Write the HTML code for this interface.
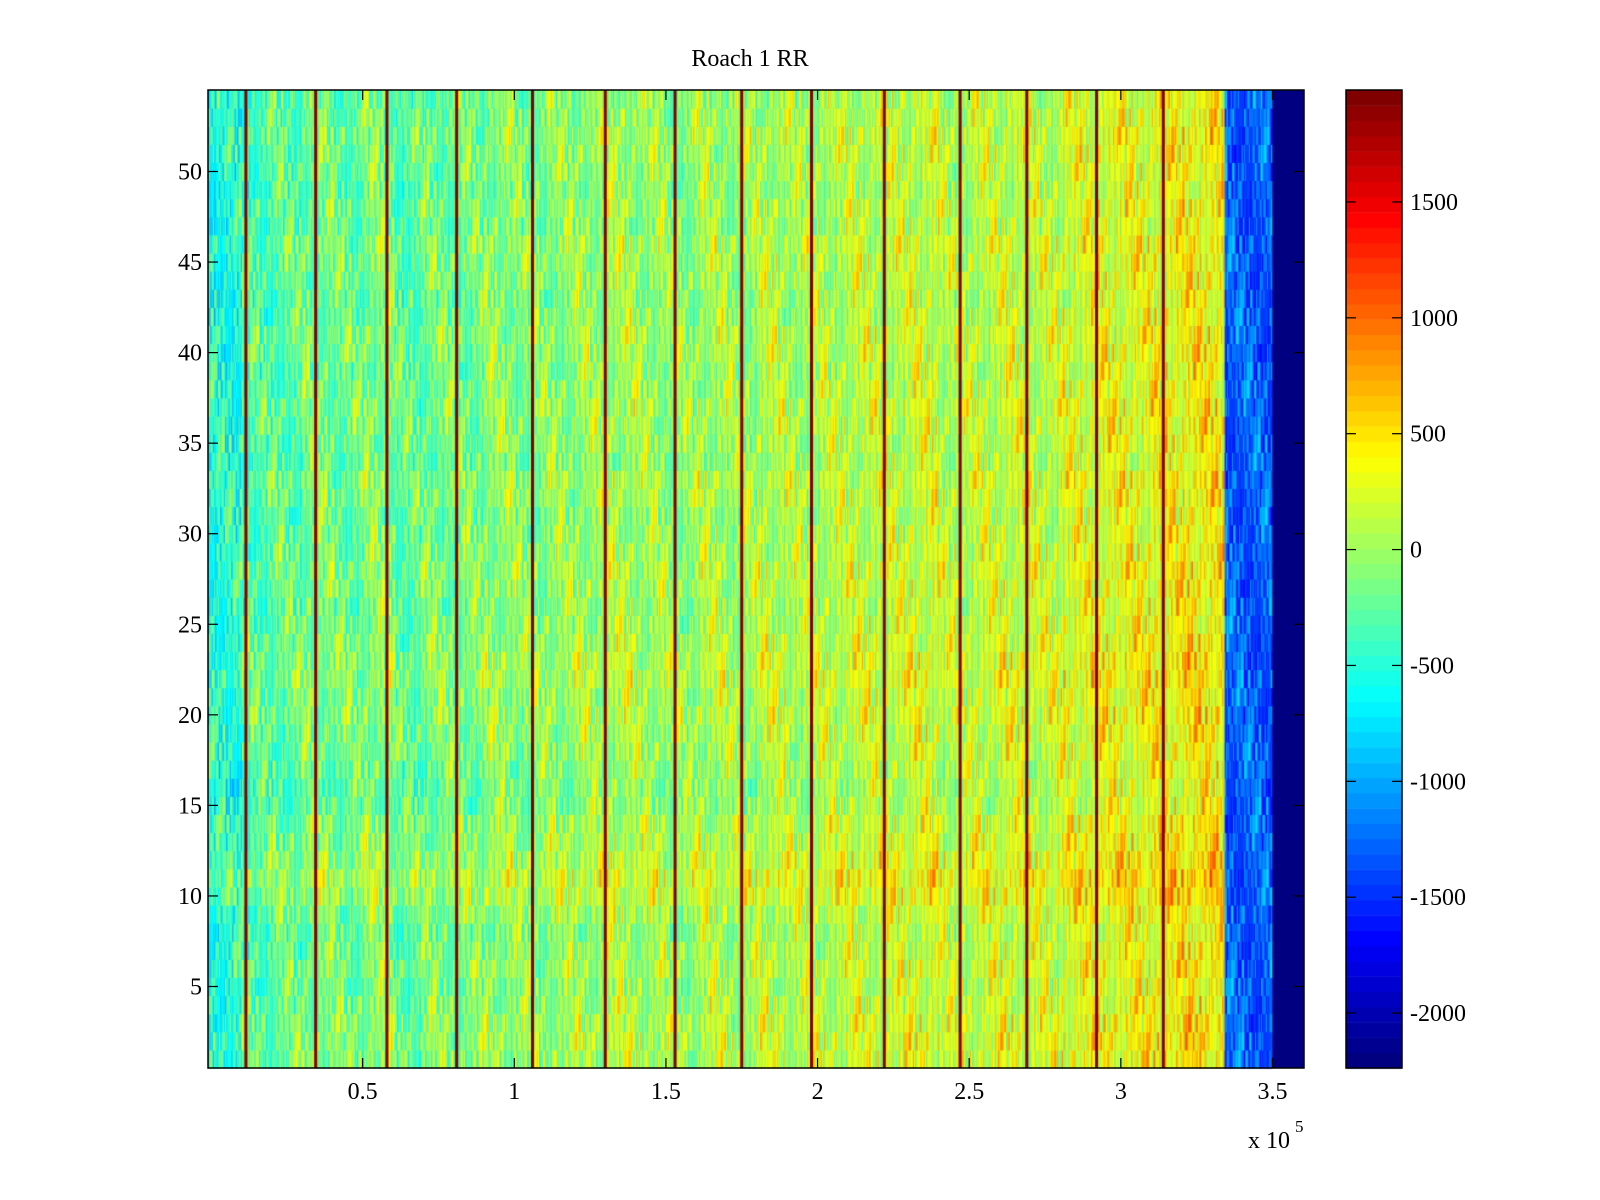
<!DOCTYPE html>
<html><head><meta charset="utf-8"><style>
html,body{margin:0;padding:0;background:#fff;width:1600px;height:1200px;overflow:hidden}
#wrap{position:relative;width:1600px;height:1200px}
canvas{position:absolute;left:0;top:0}
svg{position:absolute;left:0;top:0}
text{font-family:"Liberation Serif",serif;font-size:24px;fill:#000}
</style></head><body>
<div id="wrap">
<canvas id="cv" width="1600" height="1200"></canvas>
<svg id="sv" width="1600" height="1200"></svg>
</div>
<script>
// ---- data ----
// mean value per 10k-wide column bin (x in units of 1e5: 0.0-0.1, 0.1-0.2, ...)
const binMeans = [-500,-300,-250,-150,-200,-100,-250,-150,-150,-50,-100,-50,0,50,0,-50,50,0,100,50,100,150,150,200,100,150,200,150,250,300,300,350,400,400,-1300,-2237];
// blue band near the end of the recording
const blueBandStart = 3.34;
const blueBandMean = -1300;
// per-row offsets (rows 1..54)
const rowOffsets = [50,80,60,20,-20,40,0,-40,30,150,200,120,60,40,-60,-80,-40,0,20,60,40,100,80,40,0,-20,20,40,0,-20,-40,20,40,-60,-20,0,20,-20,-40,0,20,-40,-60,-20,0,20,-60,-20,-80,-40,-20,0,-40,-60];
// texture offsets cycled through cells
const texture = [-420,180,60,-250,320,-90,410,-330,20,260,-160,90,-380,520,-40,150,-220,300,-120,40,-300,230,-60,380,-190,110,-450,270,0,-140,600,-280,70,190,-360,130,-20,340,-240,80,-110,450,-310,10,220,-170,360,-70,-400,160,30,-210,290,-130,480,-260,100,-50,240,-350,140];
// x positions (×1e5) of the recurring dark-red vertical spike lines
const spikeX = [0.115,0.345,0.58,0.81,1.06,1.30,1.53,1.75,1.98,2.22,2.47,2.69,2.92,3.14];
const spikeValue = 1950;
const dataEndX = 3.50;
const xTicks = [0.5,1,1.5,2,2.5,3,3.5];
const xTickLabels = ["0.5","1","1.5","2","2.5","3","3.5"];
const yTicks = [5,10,15,20,25,30,35,40,45,50];
const cTicks = [-2000,-1500,-1000,-500,0,500,1000,1500];
const xMin=-0.01, xMax=3.604, yMin=0.5, yMax=54.5, cMin=-2237, cMax=1983;

// ---- layout ----
const L=208,R=1304,T=90,B=1068;
const CL=1346,CR=1402;
const sx=v=>L+(v-xMin)/(xMax-xMin)*(R-L);
const sy=v=>B-(v-yMin)/(yMax-yMin)*(B-T);
const sc=v=>B-(v-cMin)/(cMax-cMin)*(B-T);

function jet(t){
  t=Math.max(0,Math.min(1,t));
  t=Math.min(63,Math.floor(t*64))/63;
  const f=x=>Math.max(0,Math.min(1,x));
  const r=f(1.5-Math.abs(4*t-3)), g=f(1.5-Math.abs(4*t-2)), b=f(1.5-Math.abs(4*t-1));
  return `rgb(${Math.round(r*255)},${Math.round(g*255)},${Math.round(b*255)})`;
}
const cnorm=v=>(v-cMin)/(cMax-cMin);

const ctx=document.getElementById('cv').getContext('2d');
ctx.fillStyle=jet(0);ctx.fillRect(L,T,R-L,B-T);
const cellW=0.004;
const nCols=Math.round((dataEndX-xMin)/cellW);
for(let r=0;r<rowOffsets.length;r++){
  const y0=sy(r+1.5), y1=sy(r+0.5);
  for(let c=0;c<nCols;c++){
    const x=xMin+c*cellW;
    const bin=Math.min(binMeans.length-1,Math.max(0,Math.floor(x/0.1)));
    const blue = x>=blueBandStart;
    const tex=texture[(c*37+r*11+Math.floor(c/7)*5)%texture.length];
    let v=(blue?blueBandMean:binMeans[bin]+rowOffsets[r])+tex*(blue?0.9:1);
    ctx.fillStyle=jet(cnorm(v));
    const xa=sx(x),xb=sx(x+cellW);
    ctx.fillRect(xa,y0,xb-xa+0.5,y1-y0+0.5);
  }
}
// spike lines
spikeX.forEach(s=>{ctx.fillStyle=jet(cnorm(spikeValue));ctx.fillRect(sx(s)-1.5,T,3,B-T);});
// colorbar
for(let i=0;i<64;i++){
  const v0=cMin+i*(cMax-cMin)/64, v1=cMin+(i+1)*(cMax-cMin)/64;
  ctx.fillStyle=jet((i+0.5)/64);
  ctx.fillRect(CL,sc(v1),CR-CL,sc(v0)-sc(v1)+0.5);
}

const svg=document.getElementById('sv');
const NS='http://www.w3.org/2000/svg';
function mk(tag,attrs,txt){const e=document.createElementNS(NS,tag);for(const k in attrs)e.setAttribute(k,attrs[k]);if(txt!=null)e.textContent=txt;svg.appendChild(e);return e;}
let e;
e=mk('rect',{x:L,y:T,width:R-L,height:B-T,fill:'none',stroke:'#000','stroke-width':1.5});


e=mk('rect',{x:CL,y:T,width:CR-CL,height:B-T,fill:'none',stroke:'#000','stroke-width':1.5});


e=mk('text',{x:750,y:66,'text-anchor':'middle'},'Roach 1 RR');


xTicks.forEach((t,i)=>{
  const x=sx(t);
  mk('line',{x1:x,y1:B,x2:x,y2:B-10,stroke:'#000','stroke-width':1.2});
  mk('line',{x1:x,y1:T,x2:x,y2:T+10,stroke:'#000','stroke-width':1.2});
  e=mk('text',{x:x,y:1099,'text-anchor':'middle'},xTickLabels[i]);
  
  
});
yTicks.forEach(t=>{
  const y=sy(t);
  mk('line',{x1:L,y1:y,x2:L+10,y2:y,stroke:'#000','stroke-width':1.2});
  mk('line',{x1:R,y1:y,x2:R-10,y2:y,stroke:'#000','stroke-width':1.2});
  e=mk('text',{x:202,y:y+8,'text-anchor':'end'},String(t));
  
  
});
cTicks.forEach(t=>{
  const y=sc(t);
  mk('line',{x1:CL,y1:y,x2:CL+10,y2:y,stroke:'#000','stroke-width':1.2});
  mk('line',{x1:CR,y1:y,x2:CR-10,y2:y,stroke:'#000','stroke-width':1.2});
  e=mk('text',{x:1410,y:y+8},String(t));
  
  
});
e=mk('text',{x:1248,y:1148},'x 10');


mk('text',{x:1295,y:1132,style:'font-size:17px'},'5');
</script>
</body></html>
